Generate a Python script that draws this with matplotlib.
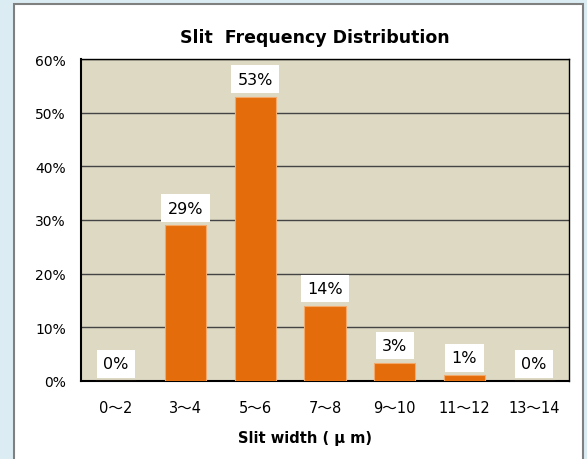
import matplotlib.pyplot as plt
from matplotlib.patches import Rectangle

plt.rcParams['font.family'] = ['DejaVu Sans', 'Noto Sans CJK JP']

# データ
categories = ['0～2', '3～4', '5～6', '7～8', '9～10', '11～12', '13～14']
values = [0, 29, 53, 14, 3.4, 1.1, 0]
labels = ['0%', '29%', '53%', '14%', '3%', '1%', '0%']
yticks = [0, 10, 20, 30, 40, 50, 60]

fig = plt.figure(figsize=(5.87, 4.6), dpi=100)
fig.patch.set_facecolor('#dbedf3')

# white panel
panel = Rectangle((14 / 587, -0.05), (583 - 14) / 587, 1.05 - 5 / 460,
                  transform=fig.transFigure, facecolor='white',
                  edgecolor='#808080', linewidth=1.5, zorder=-5)
fig.patches.append(panel)

ax = fig.add_axes([81 / 587, 78 / 460, 488 / 587, 322 / 460])
ax.set_facecolor('#ddd9c3')

x = range(len(categories))
ax.bar(x, values, width=0.59, color='#e46c0a', edgecolor='#f2a96a',
       linewidth=0.8, zorder=3)

for i, (v, lab) in enumerate(zip(values, labels)):
    ax.annotate(lab, (i, v), xytext=(0, 12.5), textcoords='offset points',
                ha='center', va='center', fontsize=11.5,
                bbox=dict(boxstyle='square,pad=0.4', fc='white', ec='none'),
                zorder=4)

ax.set_xlim(-0.5, len(categories) - 0.5)
ax.set_ylim(0, 60)
ax.set_yticks(yticks)
ax.set_yticklabels([f'{t}%' for t in yticks], fontsize=10)
ax.set_xticks(list(x))
ax.set_xticklabels(categories, fontsize=10.5)
ax.tick_params(axis='y', length=0, pad=11)
ax.tick_params(axis='x', length=0, pad=14)

ax.grid(axis='y', color='#444444', linewidth=1.0, zorder=1)
ax.set_axisbelow(True)
for s in ax.spines.values():
    s.set_color('black')
    s.set_linewidth(1.0)
ax.spines['bottom'].set_linewidth(1.5)
ax.spines['left'].set_linewidth(1.5)

fig.text(315 / 587, 1 - 38 / 460, 'Slit  Frequency Distribution',
         ha='center', va='center', fontsize=12.5, fontweight='bold')
fig.text(305 / 587, 1 - 438 / 460, 'Slit width ( μ m)',
         ha='center', va='center', fontsize=10.5, fontweight='bold')

plt.savefig('out.png', dpi=100)
